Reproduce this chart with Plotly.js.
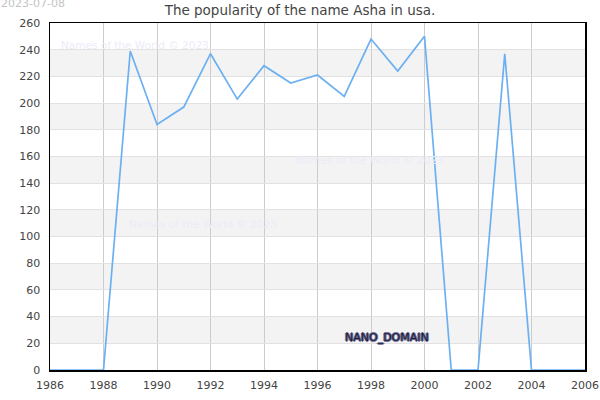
<!DOCTYPE html>
<html>
<head>
<meta charset="utf-8">
<script src="https://cdn.plot.ly/plotly-3.0.1.min.js"></script>
<style>html,body{margin:0;padding:0;background:#fff;}#chart{width:600px;height:400px;}</style>
</head>
<body>
<div id="chart"></div>
<script>
const years = [1986,1987,1988,1989,1990,1991,1992,1993,1994,1995,1996,1997,1998,1999,2000,2001,2002,2003,2004,2005,2006];
const popularity = [0,0,0,239,184,197,237,203,228,215,221,205,248,224,250,0,0,237,0,0,0];
const xTicks = [1986,1988,1990,1992,1994,1996,1998,2000,2002,2004,2006];
const yTicks = [0,20,40,60,80,100,120,140,160,180,200,220,240,260];
const titleText = "The popularity of the name Asha in usa.";
const dateText = "2023-07-08";
const watermarkText = "Names of the World © 2023";
const domainText = "NANO_DOMAIN";

const shapes = [];
for (let i = 1; i + 1 < yTicks.length; i += 2) {
  shapes.push({type:'rect', xref:'paper', yref:'y', x0:0, x1:1, y0:yTicks[i], y1:yTicks[i+1],
    fillcolor:'#f3f3f3', line:{width:0}, layer:'below'});
}

const wm = {color:'#ececf8', size:10.5, family:'DejaVu Sans'};
const annotations = [
  {text:dateText, xref:'paper', yref:'paper', x:-0.096, y:1.057, xanchor:'left', yanchor:'middle', showarrow:false, font:{color:'#c4c4c4', size:11, family:'DejaVu Sans'}},
  {text:watermarkText, xref:'paper', yref:'paper', x:0.017, y:0.938, xanchor:'left', yanchor:'middle', showarrow:false, font:wm},
  {text:watermarkText, xref:'paper', yref:'paper', x:0.456, y:0.605, xanchor:'left', yanchor:'middle', showarrow:false, font:wm},
  {text:watermarkText, xref:'paper', yref:'paper', x:0.144, y:0.421, xanchor:'left', yanchor:'middle', showarrow:false, font:wm},
  {text:domainText, xref:'paper', yref:'paper', x:0.548, y:0.095, xanchor:'left', yanchor:'middle', showarrow:false,
    font:{color:'#20203c', size:11, family:'DejaVu Sans', shadow:'1px 0 0 #6a6a90, -1px 0 0 #6a6a90, 0 1px 0 #6a6a90, 0 -1px 0 #6a6a90'}}
];

const trace = {x:years, y:popularity, type:'scatter', mode:'lines',
  line:{color:'#6cb0f2', width:1.7}, hoverinfo:'skip'};

const layout = {
  width:600, height:400,
  margin:{l:50, r:15, t:23, b:30},
  paper_bgcolor:'#ffffff', plot_bgcolor:'#ffffff',
  title:{text:titleText, x:0.5, xanchor:'center', y:0.975, yanchor:'middle', font:{size:13.5, color:'#444', family:'DejaVu Sans'}},
  showlegend:false,
  xaxis:{range:[1986,2006], tickvals:xTicks, ticktext:xTicks.map(String), showgrid:true, gridcolor:'#cccccc', gridwidth:1,
    showline:true, linecolor:'#000', linewidth:1.5, mirror:true, zeroline:false, ticks:'', ticklen:0, ticklabelstandoff:4,
    tickfont:{size:11, color:'#444', family:'DejaVu Sans'}},
  yaxis:{range:[0,260], tickvals:yTicks, ticktext:yTicks.map(String), showgrid:true, gridcolor:'#e2e2e2', gridwidth:1,
    showline:true, linecolor:'#000', linewidth:1.5, mirror:true, zeroline:false, ticks:'', ticklen:0, ticklabelstandoff:6,
    tickfont:{size:11, color:'#444', family:'DejaVu Sans'}},
  shapes:shapes,
  annotations:annotations
};
Plotly.newPlot('chart', [trace], layout, {displayModeBar:false, staticPlot:true});
</script>
</body>
</html>
